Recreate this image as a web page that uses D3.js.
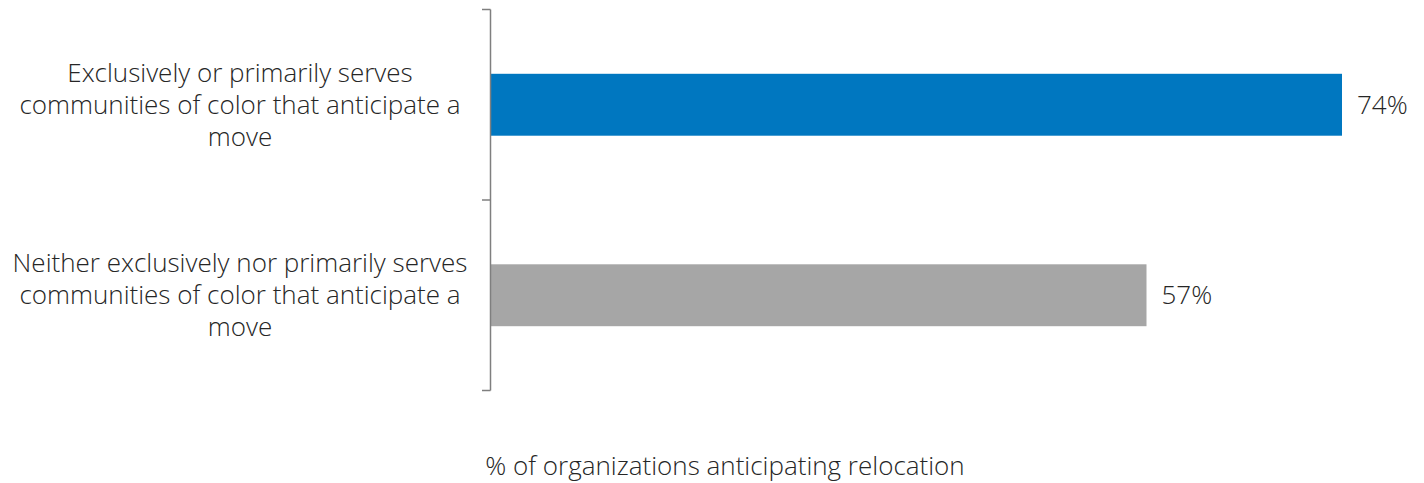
<!DOCTYPE html>
<html><head><meta charset="utf-8">
<script src="https://cdn.jsdelivr.net/npm/d3@7"></script>
<style>
html,body{margin:0;padding:0;background:#fff;}
svg{display:block;font-family:"Open Sans","Noto Sans",sans-serif;font-weight:300;}
</style></head>
<body><svg id="chart" width="1424" height="483"></svg>
<script>
const categories = [
  ["Exclusively or primarily serves", "communities of color that anticipate a", "move"],
  ["Neither exclusively nor primarily serves", "communities of color that anticipate a", "move"]
];
const values = [0.74, 0.57];
const barColors = ["#0077C0", "#A6A6A6"];
const axisTitle = "% of organizations anticipating relocation";

const svg = d3.select("#chart");
const x = d3.scaleLinear().domain([0, 0.8]).range([491, 1411]);
const y = d3.scaleBand().domain(d3.range(categories.length)).range([9.5, 390.5]).padding(0);
const barFrac = 0.325;
const textColor = "#262626";
const fs = 26;

svg.selectAll("rect.bar").data(values).join("rect")
  .attr("class","bar")
  .attr("x", x(0))
  .attr("y", (d,i) => y(i) + y.bandwidth()*(1-barFrac)/2)
  .attr("width", d => x(d) - x(0))
  .attr("height", y.bandwidth()*barFrac)
  .attr("fill", (d,i) => barColors[i]);

svg.selectAll("text.val").data(values).join("text")
  .attr("class","val")
  .attr("x", d => x(d) + 15)
  .attr("y", (d,i) => y(i) + y.bandwidth()/2)
  .attr("dy","0.35em")
  .attr("font-size", fs)
  .attr("fill", textColor)
  .text(d => d3.format(".0%")(d));

const axisColor = "#7F7F7F";
const ag = svg.append("g");
ag.append("line").attr("x1", x(0)-0.5).attr("x2", x(0)-0.5)
  .attr("y1", y.range()[0]).attr("y2", y.range()[1])
  .attr("stroke", axisColor).attr("stroke-width", 1.5);
const bounds = d3.range(categories.length+1).map(i => y.range()[0] + i*y.step());
ag.selectAll("line.tick").data(bounds).join("line")
  .attr("class","tick")
  .attr("x1", x(0)-9).attr("x2", x(0)-0.5)
  .attr("y1", d => d).attr("y2", d => d)
  .attr("stroke", axisColor).attr("stroke-width", 1.5);

const lineH = 32;
categories.forEach((lines, i) => {
  const cy = y(i) + y.bandwidth()/2;
  const t = svg.append("text")
    .attr("text-anchor","middle")
    .attr("font-size", fs)
    .attr("fill", textColor);
  lines.forEach((ln, j) => {
    t.append("tspan").attr("x", 240)
      .attr("y", cy + (j - (lines.length-1)/2)*lineH)
      .attr("dy","0.35em")
      .text(ln);
  });
});

svg.append("text")
  .attr("x", 725).attr("y", 466).attr("dy","0.35em")
  .attr("text-anchor","middle")
  .attr("font-size", fs)
  .attr("fill", textColor)
  .text(axisTitle);
</script></body></html>
